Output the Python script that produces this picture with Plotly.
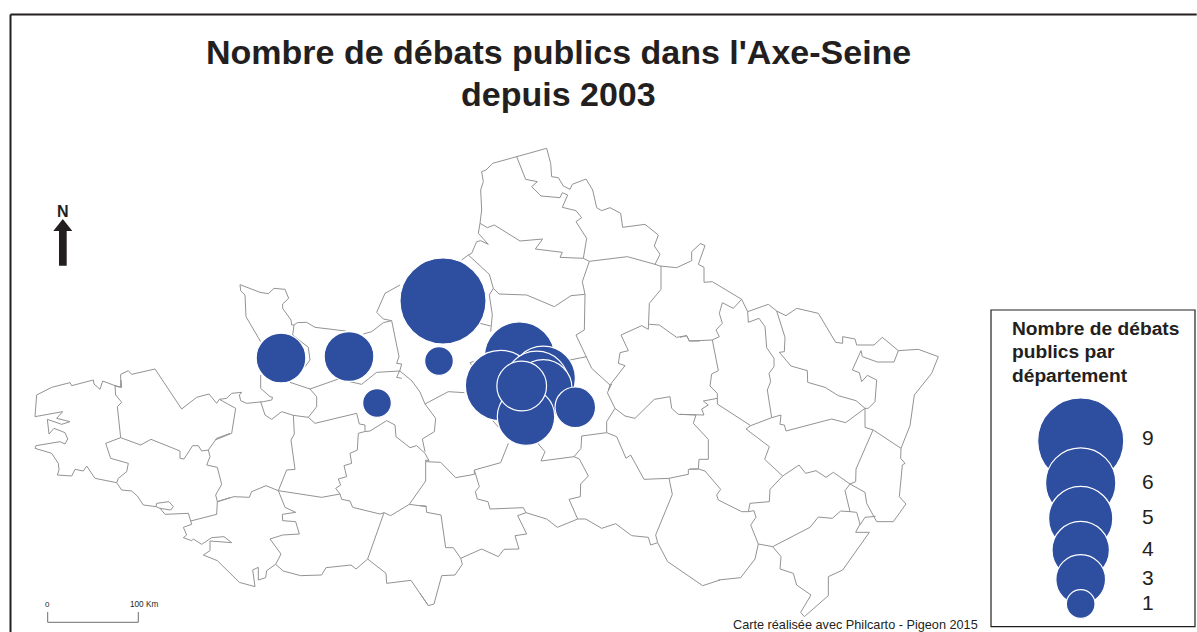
import numpy as np
import plotly.graph_objects as go

BLUE = "#2E4EA0"
INK = "#231F20"
BORDER = "#939393"
FONT = "Liberation Sans"

# debates per departement, map circles (drawn in this order)
MAP_VALUES = [9, 3, 3, 1, 1, 6, 6, 5, 5, 4, 4, 3, 2]
MAP_X = [443, 281, 349, 377, 439, 519.5, 500.5, 543.3, 536.7, 543.3, 526, 521.7, 575.3]
MAP_Y = [301, 358, 356.5, 403, 361, 357, 385.6, 378.3, 383.3, 388.3, 416.7, 386, 407.3]

# legend
LEGEND_VALUES = [9, 6, 5, 4, 3, 1]
LEGEND_Y = [441, 483, 518.4, 550, 579.5, 604]
LEGEND_LABEL_Y = [437.7, 481.7, 516.7, 548, 577, 602]

# circle diameter for one debate, sizes go with the square root of the value
BASE_DIAMETER = 28.7

WEST = (0, 140, [
    [(720, 434), (722, 452), (735, 465), (738, 530), (782, 605)],
    [(720, 434), (780, 457), (805, 461), (822, 445), (855, 448), (866, 475), (848, 492), (848, 505),
     (873, 540), (875, 555), (882, 555), (878, 585), (925, 622), (930, 660), (915, 680)],
    [(882, 555), (892, 548), (920, 547), (945, 562), (1037, 573)],
    [(1090, 582), (1115, 575), (1150, 548), (1175, 542), (1150, 537), (1130, 517), (1155, 460), (1200, 435)],
    [(1175, 542), (1197, 650), (1190, 670), (1205, 672), (1200, 690), (1190, 712), (1205, 715)],
    [(1050, 725), (1085, 733), (1130, 697), (1200, 693), (1236, 723), (1260, 756), (1275, 792)],
    [(1015, 717), (930, 747), (870, 727)],
    [(930, 747), (950, 770), (950, 800), (925, 832)],
    [(782, 705), (782, 745), (810, 770), (818, 772), (815, 780), (790, 785), (740, 790), (722, 782),
     (718, 765), (725, 757), (695, 760), (680, 775), (658, 778), (650, 790), (627, 762), (590, 772),
     (545, 807), (465, 687), (395, 703), (385, 692), (362, 703), (362, 742), (345, 738)],
    [(782, 785), (795, 825), (815, 838), (845, 815), (880, 826), (925, 832), (945, 850), (1070, 820),
     (1078, 852), (1095, 855), (1095, 873)],
    [(658, 778), (707, 805), (695, 880), (645, 900)],
])

BRITTANY = (20, 380, [
    [(50, 45), (45, 110), (128, 95), (110, 115), (150, 125), (125, 133), (82, 118), (87, 162), (102, 145),
     (135, 158), (143, 177), (135, 192), (120, 185), (48, 197), (45, 205), (95, 220), (115, 250), (117, 270),
     (112, 285), (155, 288), (165, 268), (190, 273), (200, 258), (225, 295), (290, 308), (305, 330),
     (335, 333), (352, 348), (370, 375), (408, 380), (420, 385), (435, 403), (505, 400), (512, 423),
     (590, 403), (592, 365), (587, 345), (605, 313), (592, 262), (560, 255), (570, 230), (565, 210)],
    [(408, 380), (410, 370), (447, 365), (460, 380), (452, 390), (420, 385)],
    [(302, 173), (362, 195), (393, 178), (480, 213), (480, 235), (492, 237), (518, 197), (535, 197),
     (545, 213), (565, 210), (590, 175), (630, 160)],
    [(302, 173), (257, 190), (272, 235), (325, 250), (320, 275), (295, 295), (290, 308)],
    [(302, 173), (292, 80), (305, 67), (287, 45), (285, 17), (305, 22), (303, 0)],
    [(50, 45), (95, 22), (150, 8), (155, 17), (220, 0), (222, 12), (240, 28), (248, 3), (285, 17)],
    [(592, 365), (630, 353)],
])

LOIRE = (130, 400, [
    [(262, 305), (312, 290), (358, 292), (365, 275), (408, 257), (445, 272), (470, 210), (495, 208),
     (483, 120), (493, 102), (490, 45)],
    [(703, 95), (720, 93), (770, 62), (795, 75), (798, 110), (840, 143), (860, 137), (885, 160), (897, 182)],
    [(703, 95), (685, 100), (682, 150), (660, 160), (665, 190), (642, 197), (650, 230), (625, 237),
     (632, 255), (617, 265), (630, 282), (575, 292), (445, 272)],
    [(630, 282), (635, 298), (660, 303), (668, 322), (750, 342), (762, 338), (782, 347), (838, 313),
     (887, 243), (887, 180), (897, 182)],
    [(838, 313), (890, 320)],
    [(182, 362), (185, 373), (160, 382), (170, 405), (160, 413), (185, 422), (190, 417), (215, 433),
     (245, 413), (282, 410), (305, 428), (240, 423), (240, 452), (220, 465), (262, 482), (328, 547),
     (375, 560), (368, 510), (385, 502), (385, 540), (407, 533), (410, 512), (437, 493), (453, 462),
     (420, 417), (458, 405), (508, 402), (497, 365), (458, 362), (457, 343), (497, 337), (465, 322),
     (445, 272)],
    [(437, 493), (460, 513), (512, 527), (575, 525), (588, 503), (663, 495), (678, 507), (713, 477),
     (762, 338)],
    [(713, 477), (768, 520), (770, 550), (843, 541), (895, 617)],
])

CENTRE = (420, 380, [
    [(0, 640), (25, 677), (42, 672), (65, 587), (105, 585), (127, 553), (122, 535), (100, 503), (77, 503),
     (63, 405), (20, 397), (18, 378), (0, 377)],
    [(122, 535), (185, 507), (235, 530), (252, 508), (297, 507), (285, 467), (320, 462), (293, 407),
     (318, 398), (380, 417), (412, 442), (473, 417), (497, 417), (545, 445), (587, 431), (635, 467),
     (685, 472), (692, 495), (713, 488), (743, 545), (848, 617), (900, 600)],
    [(318, 398), (310, 383), (210, 387), (204, 365), (172, 357), (166, 335), (178, 320), (163, 270),
     (242, 248), (265, 190)],
    [(15, 215), (7, 177), (43, 155), (47, 115), (15, 72), (85, 35), (133, 38)],
    [(18, 245), (62, 247), (107, 293), (163, 283), (163, 270)],
    [(218, 122), (236, 142)],
    [(340, 170), (355, 192), (375, 215), (363, 243), (462, 230), (483, 205), (485, 168), (560, 158),
     (590, 170), (618, 235), (632, 225), (672, 298), (747, 295), (805, 283), (805, 268), (835, 267),
     (837, 238), (865, 238), (865, 178), (820, 130), (828, 105)],
    [(462, 230), (478, 237), (505, 288), (482, 312), (481, 350), (447, 358), (473, 417)],
    [(747, 295), (757, 343), (707, 465), (713, 488)],
    [(560, 158), (560, 125), (585, 85), (562, 38), (575, 12)],
    [(585, 85), (615, 108), (645, 115), (703, 58), (750, 50), (755, 85), (775, 103), (828, 105)],
])

NORTH = (400, 140, [
    [(440, 25), (350, 50), (278, 70), (258, 90), (245, 95), (250, 125), (242, 150), (245, 210), (240, 250),
     (262, 263), (283, 255), (360, 303), (428, 297), (406, 327), (487, 337), (480, 352), (550, 355),
     (568, 364), (682, 350), (765, 373), (780, 378), (830, 383), (875, 362), (875, 335), (900, 312)],
    [(240, 250), (235, 280), (265, 313), (242, 302), (230, 305), (215, 340), (205, 345), (185, 360)],
    [(205, 345), (268, 403), (280, 445), (268, 465), (277, 525), (272, 575)],
    [(280, 445), (297, 462), (380, 465), (463, 500), (513, 467), (555, 463)],
    [(240, 550), (272, 558)],
    [(568, 364), (547, 425), (555, 463), (553, 570), (528, 585), (575, 685), (630, 735), (625, 750)],
    [(630, 735), (675, 677), (655, 670), (660, 638), (685, 632), (663, 585), (725, 557), (745, 568),
     (748, 490), (783, 448), (783, 378)],
    [(510, 660), (560, 650)],
    [(221, 664), (210, 668), (215, 675)],
    [(748, 553), (778, 555), (830, 592), (860, 587), (868, 603), (900, 603)],
    [(350, 50), (377, 118), (412, 125), (395, 140), (423, 168), (480, 173), (487, 158), (503, 165),
     (487, 202), (528, 212), (545, 233), (528, 245), (560, 295), (550, 355)],
    [(440, 25), (452, 70), (455, 110), (475, 113), (490, 138), (510, 148), (517, 133), (558, 117),
     (578, 150), (590, 203), (605, 212), (630, 203), (662, 220), (668, 262), (735, 253), (775, 285),
     (763, 318), (780, 343), (765, 373)],
])

EAST = (680, 230, [
    [(60, 40), (75, 47), (55, 103), (72, 112), (72, 157), (97, 155), (185, 208), (203, 245), (265, 223),
     (290, 243), (318, 257), (350, 235), (415, 250), (467, 337), (488, 340), (488, 320), (525, 327),
     (530, 345), (582, 345), (607, 322), (655, 362), (715, 358), (775, 380), (755, 430), (703, 495),
     (690, 587), (663, 655)],
    [(0, 322), (20, 317), (28, 333), (97, 330)],
    [(185, 208), (160, 235), (127, 218), (118, 250), (127, 280), (108, 300), (118, 320), (97, 330),
     (115, 422), (95, 432), (90, 468), (112, 490), (112, 522), (212, 587), (275, 563), (262, 480),
     (272, 455), (267, 430), (282, 410), (282, 385), (260, 353), (255, 290), (237, 265), (205, 277),
     (203, 245)],
    [(290, 243), (315, 322), (313, 365), (298, 367), (333, 408), (382, 422), (383, 457), (435, 472),
     (475, 497), (528, 512), (555, 535), (565, 535), (585, 515), (590, 450), (562, 436), (545, 455),
     (538, 428), (517, 420), (543, 362), (547, 380), (592, 396), (642, 396), (655, 362)],
    [(555, 535), (497, 578), (455, 567), (318, 603), (313, 585), (300, 583), (303, 555), (275, 563)],
    [(555, 535), (555, 592), (580, 600), (663, 655)],
    [(212, 587), (198, 597), (268, 650)],
    [(112, 505), (70, 513), (85, 525), (65, 537), (72, 555), (45, 555), (0, 553)],
])

SOUTH_EAST = (690, 400, [
    [(0, 207), (25, 207), (45, 213), (92, 268), (80, 285), (85, 300), (155, 335), (175, 335), (180, 310),
     (238, 305), (240, 268), (278, 228)],
    [(238, 140), (224, 178), (278, 228), (327, 195), (347, 220), (378, 212), (408, 232), (430, 217),
     (480, 252), (525, 277), (530, 310), (560, 365), (610, 365), (648, 312), (628, 290), (637, 195),
     (645, 190), (632, 175), (633, 145)],
    [(549, 90), (498, 207), (497, 245), (480, 252), (465, 272), (480, 335), (452, 333), (427, 355),
     (385, 351), (360, 382), (248, 440), (205, 432), (182, 375), (198, 352), (192, 332), (175, 335)],
    [(480, 335), (500, 337), (510, 372), (497, 397), (538, 397), (458, 510), (415, 530), (415, 587),
     (343, 650), (332, 637), (363, 585), (320, 555), (310, 520), (270, 507), (273, 470), (248, 440)],
    [(510, 375), (525, 352), (557, 349)],
    [(205, 432), (195, 477), (152, 533), (85, 540)],
])

ARROW_X = [59, 59, 53.3, 62.8, 72.3, 66.7, 66.7, 59]
ARROW_Y = [265.7, 231, 231, 219, 231, 231, 265.7, 265.7]
SCALE_X = [47.7, 47.7, 138.3, 138.3]
SCALE_Y = [612, 622.3, 622.3, 612]


def border_xy(sheets):
    xs, ys = [], []
    for x0, y0, lines in sheets:
        for line in lines:
            xs += [x0 + p[0] / 3 for p in line] + [None]
            ys += [y0 + p[1] / 3 for p in line] + [None]
    return xs, ys


def diameters(values):
    return BASE_DIAMETER * np.sqrt(values)


border_x, border_y = border_xy([WEST, BRITTANY, LOIRE, CENTRE, NORTH, EAST, SOUTH_EAST])

fig = go.Figure()
fig.add_trace(go.Scatter(x=border_x, y=border_y, mode="lines", line=dict(color=BORDER, width=1),
                         connectgaps=False, hoverinfo="skip"))
fig.add_trace(go.Scatter(x=MAP_X, y=MAP_Y, mode="markers", text=MAP_VALUES,
                         marker=dict(size=diameters(MAP_VALUES), color=BLUE, opacity=1,
                                     line=dict(color="white", width=1.2))))
fig.add_trace(go.Scatter(x=[1080.7] * len(LEGEND_VALUES), y=LEGEND_Y, mode="markers",
                         marker=dict(size=diameters(LEGEND_VALUES), color=BLUE, opacity=1,
                                     line=dict(color="white", width=1.2))))
fig.add_trace(go.Scatter(x=ARROW_X, y=ARROW_Y, mode="lines", fill="toself", fillcolor=INK,
                         line=dict(color=INK, width=0), hoverinfo="skip"))
fig.add_trace(go.Scatter(x=SCALE_X, y=SCALE_Y, mode="lines", line=dict(color="#6E6E6E", width=1),
                         hoverinfo="skip"))


def label(x, y, text, size, anchor="left", bold=False, color=INK):
    if bold:
        text = "<b>" + text + "</b>"
    fig.add_annotation(x=x, y=y, text=text, showarrow=False, xanchor=anchor, yanchor="middle",
                       font=dict(family=FONT, size=size, color=color))


label(558, 52, "Nombre de débats publics dans l'Axe-Seine", 34, "center", True)
label(558, 94, "depuis 2003", 34, "center", True)
label(62.7, 211, "N", 16, "center", True)
label(47.7, 604, "0", 8, "center")
label(143.5, 604, "100 Km", 8.2, "center")
label(731, 624.5, "Carte réalisée avec Philcarto - Pigeon 2015", 12.7)
label(1010, 328, "Nombre de débats", 19.2, bold=True)
label(1010, 351, "publics par", 19.2, bold=True)
label(1010, 375, "département", 19.2, bold=True)
for value, y in zip(LEGEND_VALUES, LEGEND_LABEL_Y):
    label(1148, y, str(value), 21, "center")

fig.add_shape(type="rect", x0=991, x1=1195, y0=310, y1=626.7, line=dict(color=INK, width=1.2))
fig.add_shape(type="line", x0=10.5, x1=10.5, y0=14.5, y1=640, line=dict(color=INK, width=2))
fig.add_shape(type="line", x0=10.5, x1=1196.7, y0=14.5, y1=14.5, line=dict(color=INK, width=2))

fig.update_layout(
    width=1197, height=632, margin=dict(l=0, r=0, t=0, b=0), showlegend=False,
    plot_bgcolor="white", paper_bgcolor="white",
    xaxis=dict(range=[0, 1197], visible=False, fixedrange=True),
    yaxis=dict(range=[632, 0], visible=False, fixedrange=True),
)

fig.write_html("out.html", config=dict(displayModeBar=False),
               post_script="document.body.style.margin='0';")
